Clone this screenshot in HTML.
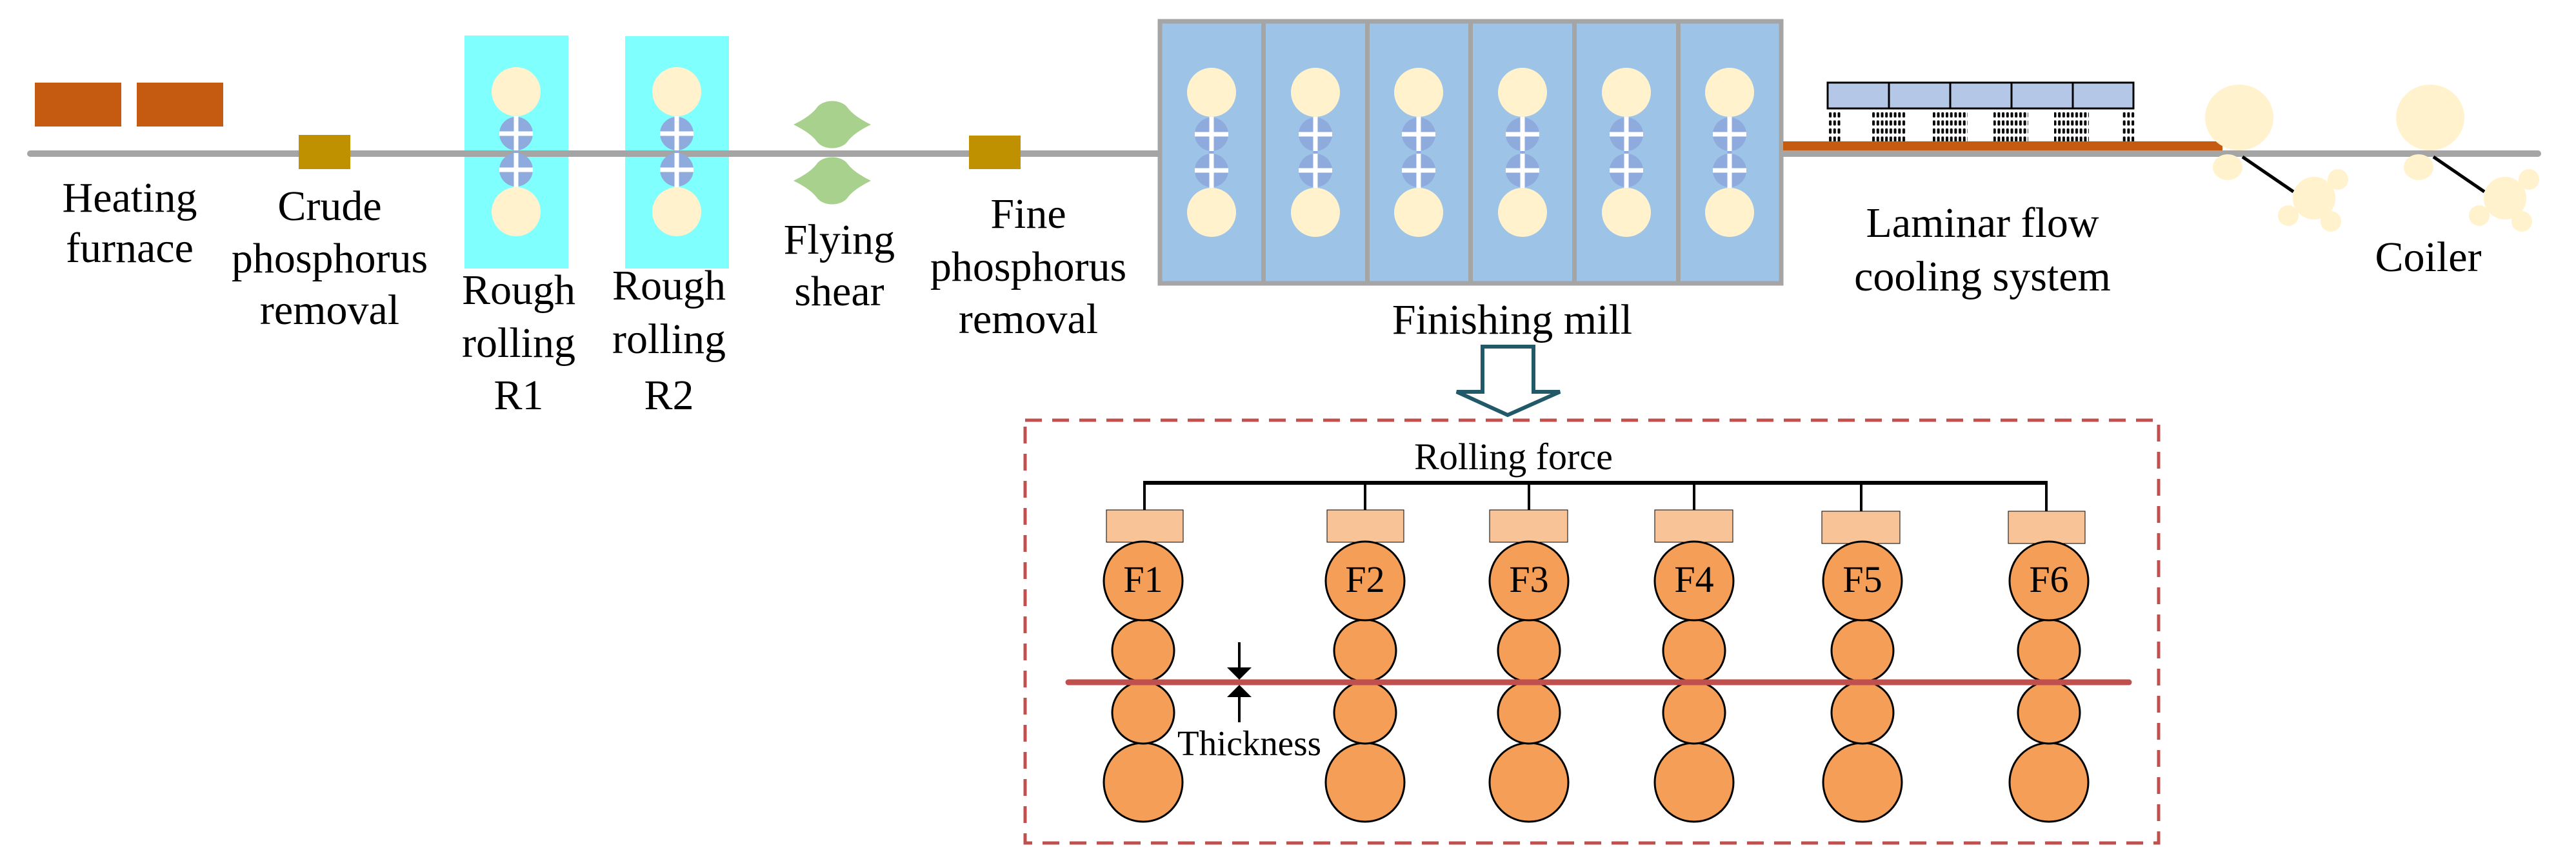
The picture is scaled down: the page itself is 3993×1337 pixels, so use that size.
<!DOCTYPE html>
<html><head><meta charset="utf-8"><style>
html,body{margin:0;padding:0;background:#fff;}
svg{display:block;}
</style></head><body>
<svg width="3993" height="1337" viewBox="0 0 3993 1337" xmlns="http://www.w3.org/2000/svg" font-family="'Liberation Serif', 'Times New Roman', 'DejaVu Serif', serif">
<defs>
  <pattern id="dots" x="0" y="174" width="6.7" height="12.5" patternUnits="userSpaceOnUse">
    <rect x="1" y="0" width="4" height="8" rx="1.5" fill="#000"/>
  </pattern>
  <g id="rroll">
    <circle cx="0" cy="143" r="38" fill="#FFF2CC"/>
    <circle cx="0" cy="208" r="26" fill="#8FAADC"/>
    <circle cx="0" cy="264" r="26" fill="#8FAADC"/>
    <circle cx="0" cy="329" r="38" fill="#FFF2CC"/>
    <rect x="-3.5" y="181" width="7" height="110" fill="#fff"/>
    <rect x="-26" y="204.5" width="52" height="7" fill="#fff"/>
    <rect x="-26" y="260.5" width="52" height="7" fill="#fff"/>
    <rect x="-3.5" y="234" width="7" height="4" fill="#8FAADC"/>
  </g>
  <g id="froll" stroke="#000" stroke-width="3" fill="#F49E58">
    <circle cx="0" cy="1212" r="61"/>
    <circle cx="0" cy="1104" r="48"/>
    <circle cx="0" cy="1008" r="48"/>
    <circle cx="0" cy="900" r="61"/>
  </g>
  <g id="coiler">
    <ellipse cx="0" cy="182" rx="53" ry="51" fill="#FFF2CC"/>
    <ellipse cx="-18" cy="259" rx="23" ry="20" fill="#FFF2CC"/>
    <line x1="5" y1="243" x2="84" y2="297" stroke="#000" stroke-width="5"/>
    <ellipse cx="116" cy="307" rx="33" ry="33" fill="#FFF2CC"/>
    <circle cx="153" cy="278" r="16" fill="#FFF2CC"/>
    <circle cx="76" cy="334" r="16" fill="#FFF2CC"/>
    <circle cx="142" cy="343" r="16" fill="#FFF2CC"/>
  </g>
  <path id="shear" d="M-60,0 C-40,-10 -30,-18 -24,-26 C-14,-40 14,-40 24,-26 C30,-18 40,-10 60,0 C40,10 30,18 24,26 C14,40 -14,40 -24,26 C-30,18 -40,10 -60,0Z" fill="#A9D18E"/>
</defs>

<rect x="42" y="233" width="3897" height="10" rx="5" fill="#A5A5A5"/>

<rect x="54" y="128" width="134" height="68" fill="#C55A11"/>
<rect x="212" y="128" width="134" height="68" fill="#C55A11"/>
<rect x="463" y="209" width="80" height="53" fill="#BF9000"/>
<rect x="720" y="55" width="161" height="361" fill="#80FFFF"/>
<rect x="969" y="56" width="161" height="360" fill="#80FFFF"/>
<rect x="720" y="233" width="161" height="10" fill="#A5A5A5"/>
<rect x="969" y="233" width="161" height="10" fill="#A5A5A5"/>
<use href="#rroll" x="800" y="-1"/>
<use href="#rroll" x="1049" y="-1"/>
<use href="#shear" x="1290" y="193"/>
<use href="#shear" x="1290" y="280"/>
<rect x="1502" y="210" width="80" height="52" fill="#BF9000"/>

<rect x="1798" y="33" width="963" height="406" fill="#9DC3E6" stroke="#A5A5A5" stroke-width="7"/>
<g fill="#A5A5A5">
<rect x="1955" y="33" width="7" height="406"/>
<rect x="2116" y="33" width="7" height="406"/>
<rect x="2276" y="33" width="7" height="406"/>
<rect x="2437" y="33" width="7" height="406"/>
<rect x="2598" y="33" width="7" height="406"/>
</g>
<use href="#rroll" x="1878"/>
<use href="#rroll" x="2039"/>
<use href="#rroll" x="2199"/>
<use href="#rroll" x="2360"/>
<use href="#rroll" x="2521"/>
<use href="#rroll" x="2681"/>

<rect x="2764" y="219" width="681" height="14" fill="#C55A11"/>
<g fill="#B4C7E7" stroke="#000" stroke-width="3">
<rect x="2833" y="128" width="95" height="40"/>
<rect x="2928" y="128" width="95" height="40"/>
<rect x="3023" y="128" width="95" height="40"/>
<rect x="3118" y="128" width="95" height="40"/>
<rect x="3213" y="128" width="94" height="40"/>
</g>
<g fill="url(#dots)">
<rect x="2834" y="174" width="20" height="45"/>
<rect x="2900" y="174" width="54" height="45"/>
<rect x="2996" y="174" width="54" height="45"/>
<rect x="3090" y="174" width="54" height="45"/>
<rect x="3184" y="174" width="54" height="45"/>
<rect x="3289" y="174" width="20" height="45"/>
</g>

<use href="#coiler" x="3471"/>
<use href="#coiler" x="3767"/>

<g font-size="66" text-anchor="middle" fill="#000" font-family="'Liberation Serif', 'Times New Roman', serif">
<text x="201" y="328">Heating</text><text x="201" y="406">furnace</text>
<text x="511" y="341">Crude</text><text x="511" y="422">phosphorus</text><text x="511" y="502">removal</text>
<text x="804" y="471">Rough</text><text x="804" y="553">rolling</text><text x="804" y="634">R1</text>
<text x="1037" y="464">Rough</text><text x="1037" y="547">rolling</text><text x="1037" y="634">R2</text>
<text x="1301" y="393">Flying</text><text x="1301" y="473">shear</text>
<text x="1594" y="353">Fine</text><text x="1594" y="435">phosphorus</text><text x="1594" y="516">removal</text>
<text x="2344" y="517">Finishing mill</text>
<text x="3073" y="367">Laminar flow</text><text x="3073" y="450">cooling system</text>
<text x="3764" y="420">Coiler</text>
</g>

<path d="M2298,537 L2377,537 L2377,607 L2418,607 L2337,643 L2258,607 L2298,607 Z" fill="#fff" stroke="#215968" stroke-width="6"/>

<rect x="1589" y="651" width="1757" height="655" fill="none" stroke="#C0504D" stroke-width="5" stroke-dasharray="26,16"/>

<g stroke="#000" fill="none">
<line x1="1772" y1="748" x2="3174" y2="748" stroke-width="6"/>
<line x1="1774" y1="748" x2="1774" y2="790" stroke-width="4"/>
<line x1="2116" y1="748" x2="2116" y2="790" stroke-width="4"/>
<line x1="2370" y1="748" x2="2370" y2="790" stroke-width="4"/>
<line x1="2626" y1="748" x2="2626" y2="790" stroke-width="4"/>
<line x1="2885" y1="748" x2="2885" y2="792" stroke-width="4"/>
<line x1="3172" y1="748" x2="3172" y2="792" stroke-width="4"/>
</g>
<g fill="#F8C497" stroke="#000" stroke-width="1">
<rect x="1715" y="790" width="119" height="50"/>
<rect x="2057" y="790" width="119" height="50"/>
<rect x="2309" y="790" width="121" height="50"/>
<rect x="2565" y="790" width="121" height="50"/>
<rect x="2824" y="792" width="121" height="50"/>
<rect x="3113" y="792" width="119" height="50"/>
</g>
<use href="#froll" x="1772"/>
<use href="#froll" x="2116"/>
<use href="#froll" x="2370"/>
<use href="#froll" x="2626"/>
<use href="#froll" x="2887"/>
<use href="#froll" x="3176"/>
<line x1="1656" y1="1057" x2="3300" y2="1057" stroke="#C0504D" stroke-width="9" stroke-linecap="round"/>
<g font-family="'Liberation Serif', 'Times New Roman', serif" fill="#000">
<text x="2346" y="727" font-size="58" text-anchor="middle">Rolling force</text>
<g font-size="58" text-anchor="middle">
<text x="1772" y="917">F1</text><text x="2116" y="917">F2</text><text x="2370" y="917">F3</text>
<text x="2626" y="917">F4</text><text x="2887" y="917">F5</text><text x="3176" y="917">F6</text>
</g>
<text x="1825" y="1170" font-size="55">Thickness</text>
</g>
<line x1="1921" y1="995" x2="1921" y2="1036" stroke="#000" stroke-width="4"/>
<path d="M1902,1034 L1940,1034 L1921,1053 Z" fill="#000"/>
<line x1="1921" y1="1078" x2="1921" y2="1119" stroke="#000" stroke-width="4"/>
<path d="M1902,1080 L1940,1080 L1921,1061 Z" fill="#000"/>
</svg>
</body></html>
